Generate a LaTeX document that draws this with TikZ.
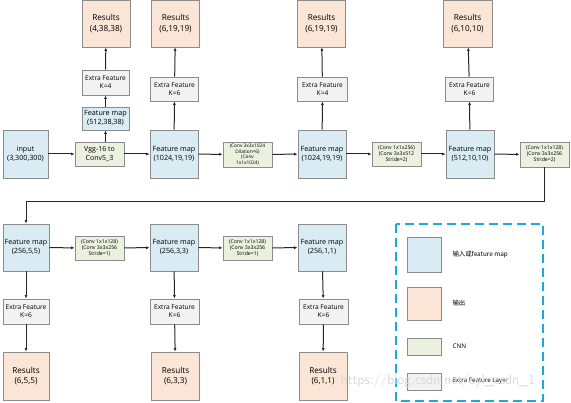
\documentclass[tikz,border=0pt]{standalone}
\usepackage{fontspec}
\setmainfont{Open Sans}
\newfontfamily\cjk{Noto Sans CJK SC}
\usetikzlibrary{arrows.meta}

\definecolor{fmblue}{RGB}{218,236,243}
\definecolor{resorange}{RGB}{251,229,214}
\definecolor{cnngreen}{RGB}{235,241,222}
\definecolor{exgray}{RGB}{242,242,242}
\definecolor{boxline}{RGB}{140,140,140}
\definecolor{legblue}{RGB}{31,168,220}

\begin{document}
\begin{tikzpicture}[x=1pt,y=-1pt,
	box/.style={draw=boxline,line width=0.9pt,inner sep=0pt,align=center},
	fmap/.style={box,fill=fmblue,minimum width=48pt,minimum height=48pt,font=\fontsize{7.2}{9}\selectfont},
	result/.style={box,fill=resorange,minimum width=48pt,minimum height=47pt,font=\fontsize{8.2}{10.5}\selectfont},
	extra/.style={box,fill=exgray,minimum width=48pt,minimum height=24pt,font=\fontsize{6.6}{8}\selectfont},
	cnn/.style={box,fill=cnngreen,minimum width=49pt,minimum height=24pt,font=\fontsize{5.2}{6}\selectfont},
	link/.style={line width=1pt,draw=black!85,-{Latex[length=3.5pt,width=3pt]}}]
	\useasboundingbox (0,0) rectangle (571,403);
	
	%top row - input and first feature maps
	\node[fmap,minimum width=45pt]  (input)   at (25.5,154) {input\\(3,300,300)};
	\node[cnn,font=\fontsize{7}{8.5}\selectfont] (vgg) at (99.5,154) {Vgg-16 to\\Conv5\_3};
	\node[fmap,minimum width=47pt,minimum height=23pt] (fmA) at (105.5,118.5) {Feature map\\(512,38,38)};
	\node[extra,minimum width=47pt,minimum height=25pt] (exA) at (105.5,82.5) {Extra Feature\\K=4};
	\node[result] (resA) at (106,23.5) {Results\\(4,38,38)};
	
	\node[fmap] (fmB) at (174,154) {Feature map\\(1024,19,19)};
	\node[extra] (exB) at (174.5,89) {Extra Feature\\K=6};
	\node[result] (resB) at (175.5,23.5) {Results\\(6,19,19)};
	\node[cnn,minimum height=25pt,font=\fontsize{4.8}{5.6}\selectfont] (convB) at (247.5,154.5) {(Conv 3x3x1024\\Dilation=6)\\(Conv\\1x1x1024)};
	
	\node[fmap] (fmC) at (322,154) {Feature map\\(1024,19,19)};
	\node[extra,minimum width=50pt] (exC) at (322.5,89) {Extra Feature\\K=4};
	\node[result] (resC) at (321.5,23.5) {Results\\(6,19,19)};
	\node[cnn] (convC) at (396.5,154) {(Conv 1x1x256)\\(Conv 3x3x512\\Stride=2)};
	
	\node[fmap] (fmD) at (470,154) {Feature map\\(512,10,10)};
	\node[extra] (exD) at (469.5,89) {Extra Feature\\K=6};
	\node[result,minimum width=49pt] (resD) at (467.5,23.5) {Results\\(6,10,10)};
	\node[cnn,minimum height=25pt] (convD) at (544.5,154.5) {(Conv 1x1x128)\\(Conv 3x3x256\\Stride=2)};
	
	%bottom row
	\node[fmap,minimum width=46pt,minimum height=47pt] (fmE) at (26,247.5) {Feature map\\(256,5,5)};
	\node[extra,minimum width=46pt,minimum height=25pt] (exE) at (26,311.5) {Extra Feature\\K=6};
	\node[result,minimum width=46pt,minimum height=48pt] (resE) at (26,376) {Results\\(6,5,5)};
	\node[cnn] (convE) at (99.5,248) {(Conv 1x1x128)\\(Conv 3x3x256\\Stride=1)};
	
	\node[fmap,minimum height=47pt] (fmF) at (174,247.5) {Feature map\\(256,3,3)};
	\node[extra,minimum width=49pt,minimum height=25pt] (exF) at (174.5,311.5) {Extra Feature\\K=6};
	\node[result,minimum height=48pt] (resF) at (175.5,376) {Results\\(6,3,3)};
	\node[cnn] (convF) at (247.5,248) {(Conv 1x1x128)\\(Conv 3x3x256\\Stride=1)};
	
	\node[fmap,minimum height=47pt] (fmG) at (322,247.5) {Feature map\\(256,1,1)};
	\node[extra,minimum width=49pt,minimum height=25pt] (exG) at (323.5,311.5) {Extra Feature\\K=6};
	\node[result,minimum height=48pt] (resG) at (323,376) {Results\\(6,1,1)};
	
	%arrows - top row
	\draw[link] (input) -- (vgg);
	\draw[link] (vgg) -- (fmB);
	\draw[link] (fmA.south |- vgg.north) -- (fmA.south);
	\draw[link] (fmA) -- (exA);
	\draw[link] (exA) -- (resA);
	\draw[link] (fmB) -- (exB);
	\draw[link] (exB) -- (resB);
	\draw[link] (fmB) -- (convB);
	\draw[link] (convB) -- (fmC);
	\draw[link] (fmC) -- (exC);
	\draw[link] (exC) -- (resC);
	\draw[link] (fmC) -- (convC);
	\draw[link] (convC) -- (fmD);
	\draw[link] (fmD) -- (exD);
	\draw[link] (exD) -- (resD);
	\draw[link] (fmD) -- (convD);
	
	%long return line
	\coordinate (turn) at (0,202);
	\draw[link] (convD.south) -- (convD.south |- turn) -| (fmE.north);
	
	%arrows - bottom row
	\draw[link] (fmE) -- (convE);
	\draw[link] (convE) -- (fmF);
	\draw[link] (fmF) -- (convF);
	\draw[link] (convF) -- (fmG);
	\draw[link] (fmE) -- (exE);
	\draw[link] (exE) -- (resE);
	\draw[link] (fmF) -- (exF);
	\draw[link] (exF) -- (resF);
	\draw[link] (fmG) -- (exG);
	\draw[link] (exG) -- (resG);
	
	%legend
	\draw[legblue,line width=2pt,dash pattern=on 9pt off 5pt] (396,224) rectangle (543,401);
	\node[box,fill=fmblue,minimum width=34pt,minimum height=35pt] (keyfm) at (424,254.5) {};
	\node[box,fill=resorange,minimum width=34pt,minimum height=33pt] (keyres) at (424,303.5) {};
	\node[box,fill=cnngreen,minimum width=34pt,minimum height=17pt] (keycnn) at (424,346.5) {};
	\node[box,fill=exgray,minimum width=34pt,minimum height=17pt] (keyex) at (424,381.5) {};
	\node[anchor=west,font=\cjk\fontsize{6.4}{8}\selectfont] (keyfmtext) at (449,254.5) {输入或feature map};
	\node[anchor=west,font=\cjk\fontsize{6.4}{8}\selectfont] (keyrestext) at (449,303.5) {输出};
	\node[anchor=west,font=\fontsize{6.4}{8}\selectfont] (keycnntext) at (449,346.5) {CNN};
	\node[anchor=west,font=\fontsize{6.2}{8}\selectfont] (keyextext) at (449,381.5) {Extra Feature Layer};
	
	%watermark
	\node[anchor=west,text=black!15,font=\fontsize{14}{16}\selectfont\sffamily] (mark) at (337,381) {https://blog.csdn.net/cyl\_csdn\_1};
\end{tikzpicture}
\end{document}
